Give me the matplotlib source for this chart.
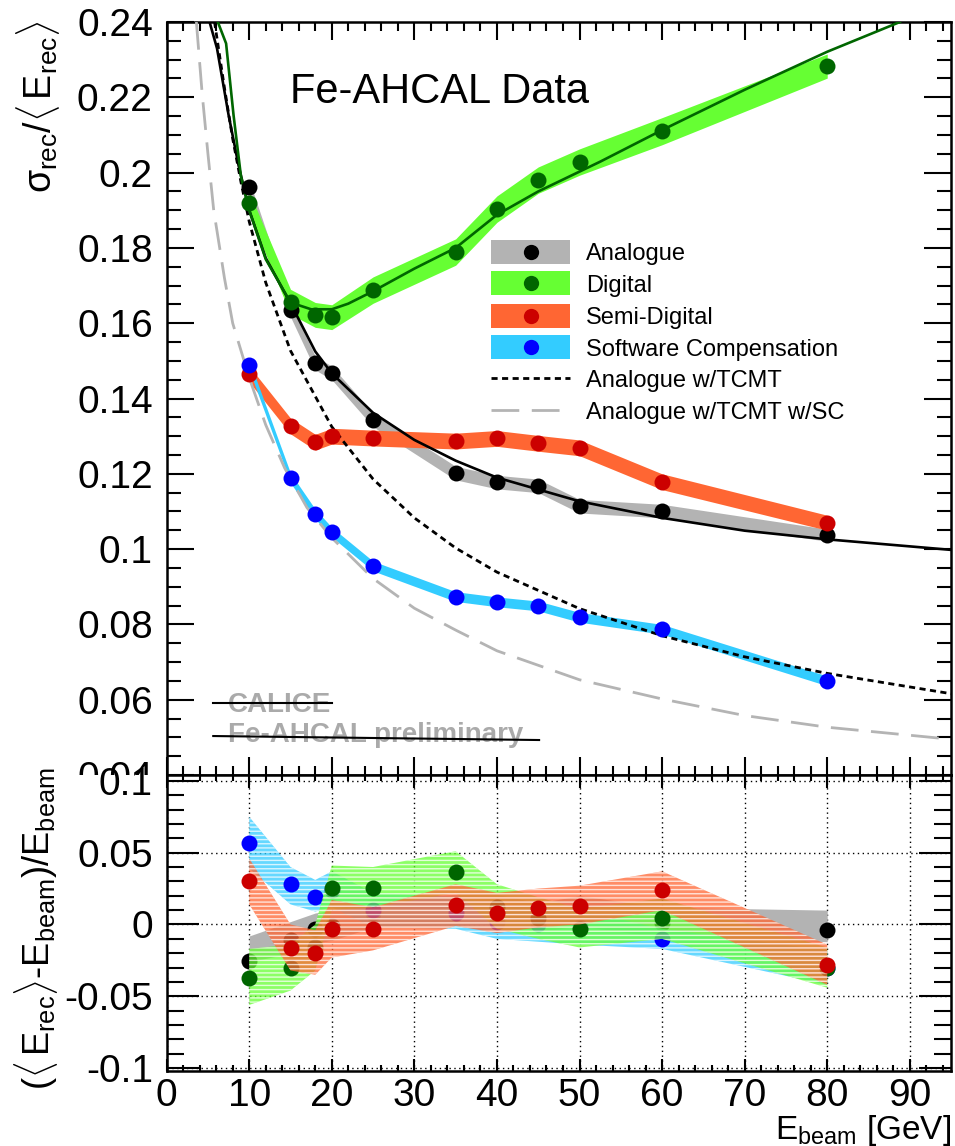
import matplotlib
matplotlib.use('Agg')
import matplotlib.pyplot as plt
from matplotlib.ticker import MultipleLocator, FuncFormatter
from matplotlib.patches import Rectangle

plt.rcParams['font.family'] = ['Liberation Sans', 'DejaVu Sans']
plt.rcParams['mathtext.fontset'] = 'custom'
plt.rcParams['mathtext.rm'] = 'Liberation Sans'
plt.rcParams['mathtext.it'] = 'Liberation Sans'
plt.rcParams['mathtext.bf'] = 'Liberation Sans:bold'
plt.rcParams['hatch.color'] = 'white'
plt.rcParams['hatch.linewidth'] = 1.0

# ---------------- data ----------------
energies = [10, 15, 18, 20, 25, 35, 40, 45, 50, 60, 80]

res_analogue = [0.1962, 0.1635, 0.1494, 0.1468, 0.1343, 0.1202, 0.1178, 0.1168, 0.1114, 0.1101, 0.1037]
res_digital = [0.1919, 0.1657, 0.1622, 0.1616, 0.1688, 0.1789, 0.1903, 0.1980, 0.2028, 0.2110, 0.2283]
res_semidigital = [0.1465, 0.1327, 0.1284, 0.1300, 0.1295, 0.1287, 0.1294, 0.1281, 0.1269, 0.1179, 0.1070]
res_softcomp = [0.1489, 0.1189, 0.1093, 0.1045, 0.0955, 0.0874, 0.0860, 0.0849, 0.0819, 0.0787, 0.0650]

err_analogue = [0.0018, 0.0018, 0.0018, 0.0018, 0.0018, 0.0018, 0.0018, 0.0018, 0.0018, 0.0018, 0.0016]
err_digital = [0.0030, 0.0033, 0.0033, 0.0033, 0.0035, 0.0035, 0.0035, 0.0035, 0.0035, 0.0036, 0.0032]
err_semidigital = [0.0021, 0.0021, 0.0021, 0.0021, 0.0021, 0.0021, 0.0021, 0.0021, 0.0021, 0.0021, 0.0020]
err_softcomp = [0.0013, 0.0013, 0.0013, 0.0013, 0.0013, 0.0013, 0.0013, 0.0013, 0.0013, 0.0013, 0.0013]

# fit curves
fit_analogue_x = [5.2, 6.1, 7.5, 8.7, 10, 12, 15, 18, 20, 25, 30, 35, 40, 50, 60, 70, 80, 95]
fit_analogue_y = [0.240, 0.233, 0.2153, 0.202, 0.190, 0.1773, 0.1653, 0.1525, 0.1467, 0.1362,
                  0.129, 0.1235, 0.119, 0.1127, 0.1083, 0.1049, 0.1026, 0.0998]
fit_tcmt_x = [5.8, 7, 8, 9, 10, 12, 15, 20, 25, 30, 35, 40, 50, 60, 70, 80, 95]
fit_tcmt_y = [0.240, 0.2225, 0.209, 0.1975, 0.187, 0.1708, 0.1527, 0.1325, 0.1186, 0.1083,
              0.1003, 0.0939, 0.0842, 0.0770, 0.0714, 0.0670, 0.0616]
fit_tcmt_sc_x = [3.6, 4.3, 5, 5.7, 7, 8, 10, 12, 14.3, 17, 20, 25, 30, 35, 40, 50, 60, 70, 80, 95]
fit_tcmt_sc_y = [0.240, 0.221, 0.205, 0.190, 0.172, 0.160, 0.1455, 0.133, 0.1215, 0.1110, 0.1030,
                 0.0922, 0.0843, 0.0785, 0.0730, 0.0653, 0.0602, 0.0558, 0.0527, 0.0495]
fit_digital_x = [6.2, 7.2, 8.1, 9, 10, 12, 15, 17.5, 20, 22, 25, 30, 35, 40, 45, 52.5, 60, 70, 80, 88.8]
fit_digital_y = [0.240, 0.2343, 0.2153, 0.199, 0.190, 0.177, 0.1655, 0.1637, 0.1637, 0.1652, 0.1685,
                 0.1745, 0.1800, 0.1888, 0.1950, 0.2029, 0.2113, 0.222, 0.2321, 0.240]

# linearity (bottom panel)
lin_analogue = [-0.0255, -0.011, -0.003, -0.001, 0.008, 0.0105, 0.011, 0.0046, 0.0105, 0.001, -0.0035]
lin_analogue_lo = [-0.026, -0.020, -0.013, -0.011, -0.002, 0.000, 0.000, -0.005, -0.001, -0.009, -0.012]
lin_analogue_hi = [-0.008, 0.002, 0.008, 0.010, 0.018, 0.021, 0.021, 0.015, 0.020, 0.012, 0.010]

lin_digital = [-0.037, -0.030, -0.016, 0.0255, 0.0255, 0.0367, 0.012, 0.0047, -0.0028, 0.0042, -0.030]
lin_digital_lo = [-0.056, -0.046, -0.032, 0.010, 0.012, 0.022, -0.003, -0.010, -0.016, -0.010, -0.044]
lin_digital_hi = [-0.017, -0.014, 0.000, 0.041, 0.040, 0.051, 0.028, 0.019, 0.011, 0.018, -0.016]

lin_semidigital = [0.0302, -0.0162, -0.0197, -0.0028, -0.0028, 0.0135, 0.0081, 0.0116, 0.0132, 0.0237, -0.0283]
lin_semidigital_lo = [0.014, -0.032, -0.035, -0.023, -0.018, -0.001, -0.006, -0.002, 0.000, 0.010, -0.042]
lin_semidigital_hi = [0.046, 0.000, -0.004, 0.017, 0.012, 0.028, 0.022, 0.025, 0.027, 0.037, -0.014]

lin_softcomp = [0.0569, 0.0279, 0.019, 0.024, 0.010, 0.008, 0.002, 0.000, -0.002, -0.0104, -0.030]
lin_softcomp_lo = [0.039, 0.014, 0.009, 0.012, -0.002, -0.003, -0.010, -0.012, -0.014, -0.017, -0.042]
lin_softcomp_hi = [0.075, 0.040, 0.031, 0.037, 0.022, 0.019, 0.014, 0.012, 0.010, -0.003, -0.018]

legend_labels = ['Analogue', 'Digital', 'Semi-Digital', 'Software Compensation',
                 'Analogue w/TCMT', 'Analogue w/TCMT w/SC']

# ---------------- styles ----------------
band_colors = ['#b3b3b3', '#66ff33', '#ff6633', '#33ccff']
marker_colors = ['#000000', '#006600', '#cc0000', '#0000ff']
dark_green = '#006600'
dash_gray = '#b4b4b4'
MS = 11.5

fig = plt.figure(figsize=(9.55, 11.46), dpi=100)
ax1 = fig.add_axes([0.1745, 0.3237, 0.8214, 0.6571])
ax2 = fig.add_axes([0.1745, 0.0654, 0.8214, 0.2583])
ax1.set_zorder(0)
ax2.set_zorder(2)
fig.add_artist(Rectangle((0, 0), 0.172, 0.3237, transform=fig.transFigure,
                         facecolor='white', edgecolor='none', zorder=1))


def fmt(v, pos):
    v = round(v, 6)
    if v == 0:
        return '0'
    return f'{v:g}'


# ---------------- top panel ----------------
res_sets = [(res_analogue, err_analogue), (res_digital, err_digital),
            (res_semidigital, err_semidigital), (res_softcomp, err_softcomp)]
for i, (vals, errs) in enumerate(res_sets):
    lo = [v - e for v, e in zip(vals, errs)]
    hi = [v + e for v, e in zip(vals, errs)]
    ax1.fill_between(energies, lo, hi, color=band_colors[i], linewidth=0, zorder=2 + i * 0.1)

ax1.plot(fit_tcmt_sc_x, fit_tcmt_sc_y, color=dash_gray, lw=2.0, ls=(0, (10, 4.5)), zorder=3)
ax1.plot(fit_tcmt_x, fit_tcmt_y, color='black', lw=2.0, ls=(0, (2.2, 1.6)), zorder=3.1)
ax1.plot(fit_analogue_x, fit_analogue_y, color='black', lw=1.9, zorder=3.2)
ax1.plot(fit_digital_x, fit_digital_y, color=dark_green, lw=1.9, zorder=3.3)

for i, (vals, errs) in enumerate(res_sets):
    ax1.plot(energies, vals, 'o', color=marker_colors[i], ms=MS, mew=0, zorder=4 + i * 0.1)

ax1.set_xlim(0, 95)
ax1.set_ylim(0.04, 0.24)
ax1.xaxis.set_major_locator(MultipleLocator(10))
ax1.xaxis.set_minor_locator(MultipleLocator(2))
ax1.yaxis.set_major_locator(MultipleLocator(0.02))
ax1.yaxis.set_minor_locator(MultipleLocator(0.005))
ax1.yaxis.set_major_formatter(FuncFormatter(fmt))
ax1.tick_params(which='both', direction='in', top=True, right=True, width=1.5)
ax1.tick_params(axis='y', which='major', length=19.5)
ax1.tick_params(axis='y', which='minor', length=10)
ax1.tick_params(axis='x', which='major', length=13)
ax1.tick_params(axis='x', which='minor', length=6.5)
ax1.tick_params(axis='x', labelbottom=False)
ax1.tick_params(axis='y', labelsize=28, pad=10)
for s in ax1.spines.values():
    s.set_linewidth(1.8)

ax1.set_ylabel(r'$\sigma_{\rm rec}/\langle\,{\rm E}_{\rm rec}\rangle$', fontsize=27, loc='top')
ax1.yaxis.set_label_coords(-0.133, 1.003)

ax1.text(0.157, 0.892, 'Fe-AHCAL Data', transform=ax1.transAxes, fontsize=30,
         ha='left', va='baseline')

# legend (drawn manually)
leg_x0, leg_x1, leg_tx = 0.4136, 0.5143, 0.5343
leg_y = [0.6946, 0.6534, 0.6096, 0.5684, 0.5272, 0.4847]
box_h = 0.032
for i in range(4):
    ax1.add_patch(Rectangle((leg_x0, leg_y[i] - box_h / 2), leg_x1 - leg_x0, box_h,
                            transform=ax1.transAxes, facecolor=band_colors[i],
                            edgecolor='none', zorder=6))
    ax1.plot([(leg_x0 + leg_x1) / 2], [leg_y[i]], 'o', transform=ax1.transAxes,
             color=marker_colors[i], ms=11, mew=0, zorder=7)
ax1.plot([leg_x0, leg_x1], [leg_y[4], leg_y[4]], transform=ax1.transAxes, color='black',
         lw=2.0, ls=(0, (2.2, 1.6)), zorder=7)
ax1.plot([leg_x0, leg_x1], [leg_y[5], leg_y[5]], transform=ax1.transAxes, color=dash_gray,
         lw=2.0, ls=(0, (10, 4.5)), zorder=7)
for i, lab in enumerate(legend_labels):
    ax1.text(leg_tx, leg_y[i], lab, transform=ax1.transAxes, fontsize=17,
             ha='left', va='center_baseline', zorder=7)

# CALICE preliminary watermark
ax1.text(0.0783, 0.0841, 'CALICE', transform=ax1.transAxes, fontsize=20,
         fontweight='bold', color='#aaaaaa', ha='left', va='baseline', zorder=5)
ax1.text(0.0783, 0.0442, 'Fe-AHCAL preliminary', transform=ax1.transAxes, fontsize=20,
         fontweight='bold', color='#aaaaaa', ha='left', va='baseline', zorder=5)
ax1.plot([0.0594, 0.2105], [0.0952, 0.0952], transform=ax1.transAxes, color='black', lw=1.5, zorder=6)
ax1.plot([0.0594, 0.4748], [0.0518, 0.0465], transform=ax1.transAxes, color='black', lw=1.5, zorder=6)

# ---------------- bottom panel ----------------
ax2.fill_between(energies, lin_analogue_lo, lin_analogue_hi, color=band_colors[0],
                 linewidth=0, zorder=2)
ax2.plot(energies, lin_analogue, 'o', color=marker_colors[0], ms=MS, mew=0, zorder=2.1)

hatched = [(lin_softcomp, lin_softcomp_lo, lin_softcomp_hi, 3),
           (lin_digital, lin_digital_lo, lin_digital_hi, 1),
           (lin_semidigital, lin_semidigital_lo, lin_semidigital_hi, 2)]
z = 2.2
for vals, lo, hi, ci in hatched:
    ax2.fill_between(energies, lo, hi, facecolor=band_colors[ci], edgecolor='white',
                     linewidth=0, hatch='----', alpha=0.75, zorder=z)
    ax2.plot(energies, vals, 'o', color=marker_colors[ci], ms=MS, mew=0, zorder=z + 0.05)
    z += 0.1

ax2.set_xlim(0, 95)
ax2.set_ylim(-0.102, 0.104)
ax2.xaxis.set_major_locator(MultipleLocator(10))
ax2.xaxis.set_minor_locator(MultipleLocator(2))
ax2.yaxis.set_major_locator(MultipleLocator(0.05))
ax2.yaxis.set_minor_locator(MultipleLocator(0.01))
ax2.yaxis.set_major_formatter(FuncFormatter(fmt))
ax2.xaxis.set_major_formatter(FuncFormatter(fmt))
ax2.grid(True, which='major', color='black', lw=1.0, ls=(0, (1, 2.5)))
ax2.set_axisbelow(True)
ax2.tick_params(which='both', direction='in', top=True, right=True, width=1.5)
ax2.tick_params(axis='y', which='major', length=23)
ax2.tick_params(axis='y', which='minor', length=12)
ax2.tick_params(axis='x', which='major', length=9)
ax2.tick_params(axis='x', which='minor', length=4.5)
ax2.tick_params(axis='both', labelsize=28)
ax2.tick_params(axis='y', pad=10)
ax2.tick_params(axis='x', pad=5)
for s in ax2.spines.values():
    s.set_linewidth(1.8)

ax2.set_ylabel(r'$(\langle\,{\rm E}_{\rm rec}\rangle$-${\rm E}_{\rm beam})/{\rm E}_{\rm beam}$',
               fontsize=26, loc='top')
ax2.yaxis.set_label_coords(-0.136, 1.024)
ax2.set_xlabel(r'${\rm E}_{\rm beam}$ [GeV]', fontsize=24, loc='right')
ax2.xaxis.set_label_coords(1.0, -0.142)

fig.savefig('out.png', dpi=100)
